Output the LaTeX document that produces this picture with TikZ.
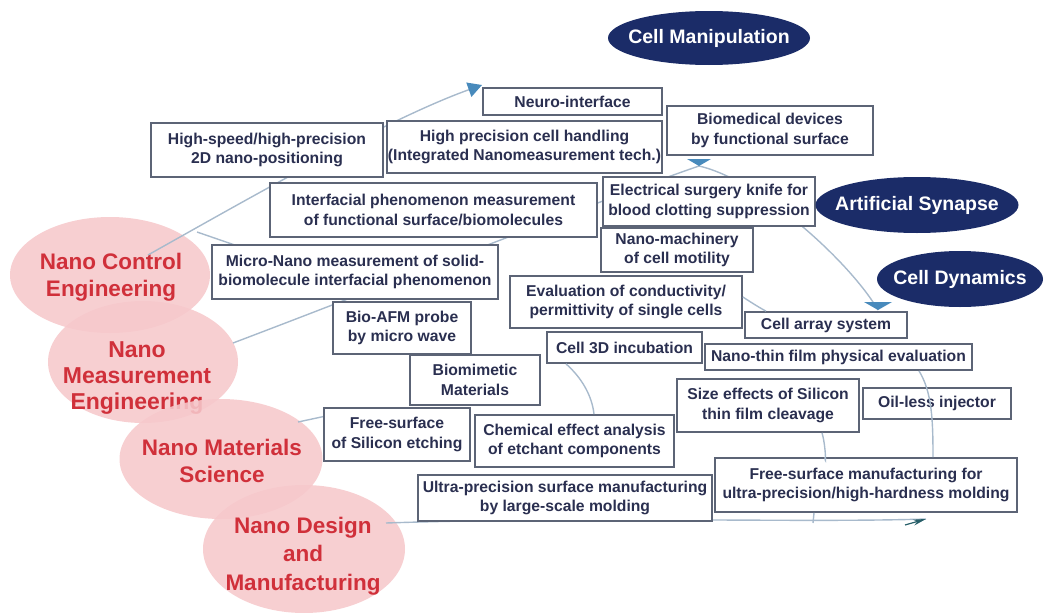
\documentclass[tikz,border=0pt]{standalone}
\usepackage{fontspec}
\setmainfont{Liberation Sans}
\usetikzlibrary{shapes.geometric,arrows.meta}
\definecolor{boxline}{RGB}{92,100,118}
\definecolor{boxtext}{RGB}{42,47,80}
\definecolor{navy}{RGB}{27,44,104}
\definecolor{pinkfill}{RGB}{246,200,203}
\definecolor{redtext}{RGB}{208,48,58}
\definecolor{conn}{RGB}{168,186,204}
\definecolor{arrowblue}{RGB}{72,138,188}
\definecolor{tealtip}{RGB}{40,95,105}
\begin{document}
\begin{tikzpicture}[x=1pt,y=-1pt,
  bx/.style={draw=boxline,line width=1.8pt,fill=white,rectangle,inner sep=0pt,align=center,text=boxtext,font=\fontsize{15.7}{19.5}\selectfont\bfseries},
  pk/.style={ellipse,fill=pinkfill,fill opacity=0.88,inner sep=0pt},
  ptx/.style={align=center,text=redtext,font=\fontsize{22.5}{27.5}\selectfont\bfseries},
  nv/.style={ellipse,fill=navy,inner sep=0pt},
  nvtx/.style={text=white,inner sep=0pt,font=\fontsize{19.5}{23}\selectfont\bfseries},
  cn/.style={draw=conn,line width=1.4pt}
]
\useasboundingbox (0,0) rectangle (1047,613);

% pink discipline ellipses
\node[pk,minimum width=200pt,minimum height=116pt] (nce) at (110,275) {};
\node[ptx] (nceT) at (111,277) {Nano Control\\Engineering};
\node[pk,minimum width=190pt,minimum height=122pt] (nme) at (143,362) {};
\node[ptx,font=\fontsize{23}{26}\selectfont\bfseries] (nmeT) at (137,378) {Nano\\Measurement\\Engineering};
\node[pk,minimum width=203pt,minimum height=120pt] (nms) at (221,459) {};
\node[ptx] (nmsT) at (222,461) {Nano Materials\\Science};
\node[pk,minimum width=202pt,minimum height=128pt] (ndm) at (304,549) {};
\node[ptx,font=\fontsize{22.5}{28.5}\selectfont\bfseries] (ndmT) at (303,556) {Nano Design\\and\\Manufacturing};

% connector end points
\coordinate (s1) at (148,255);
\coordinate (a1) at (482,85);
\coordinate (s2) at (197,232);
\coordinate (e2) at (255,252);
\coordinate (s3) at (233,343);
\coordinate (p1) at (699,166);
\coordinate (a3) at (878,310);
\coordinate (s4) at (298,422);
\coordinate (e4) at (326,416);
\coordinate (s10) at (386,523);
\coordinate (a4) at (926,519);
\coordinate (j1) at (813,523);

% connectors (drawn below the boxes)
\draw[cn,-{Triangle[width=15pt,length=14pt,color=arrowblue,fill=arrowblue]}] (s1) .. controls (260,192) and (390,118) .. (a1);
\draw[cn] (s2) -- (e2);
\draw[cn] (s3) .. controls (360,295) and (600,200) .. (p1);
\draw[cn] (p1) .. controls (760,180) and (850,262) .. (a3);
\draw[cn] (s4) -- (e4);
\draw[cn] (s10) .. controls (600,516) and (800,523) .. (a4);
\draw[-{Stealth[length=13pt,width=6pt]},tealtip,line width=1.2pt] (905,525) -- (a4);

% boxes
\node[bx,minimum width=232pt,minimum height=54pt] (hs) at (267,150) {High-speed/high-precision\\2D nano-positioning};
\node[bx,minimum width=275pt,minimum height=52pt] (hp) at (524.5,147) {High precision cell handling\\(Integrated Nanomeasurement tech.)};
\node[bx,minimum width=179pt,minimum height=27pt] (neuro) at (572.5,101.5) {Neuro-interface};
\node[bx,minimum width=206pt,minimum height=49pt] (bio) at (770,130.5) {Biomedical devices\\by functional surface};
\node[bx,minimum width=212pt,minimum height=49pt] (elec) at (709,201.5) {Electrical surgery knife for\\blood clotting suppression};
\node[bx,minimum width=327pt,minimum height=54pt] (inter) at (433.5,210) {Interfacial phenomenon measurement\\of functional surface/biomolecules};
\node[bx,minimum width=152pt,minimum height=44pt] (nanomach) at (677,250) {Nano-machinery\\of cell motility};
\node[bx,minimum width=286pt,minimum height=54pt] (micro) at (355,272) {Micro-Nano measurement of solid-\\biomolecule interfacial phenomenon};
\node[bx,minimum width=232pt,minimum height=52pt] (eval) at (626,302) {Evaluation of conductivity/\\permittivity of single cells};
\node[bx,minimum width=162pt,minimum height=26pt] (cellarray) at (826,325) {Cell array system};
\node[bx,minimum width=138pt,minimum height=52pt] (bioafm) at (402,328) {Bio-AFM probe\\by micro wave};
\node[bx,minimum width=155pt,minimum height=31pt] (cell3d) at (624.5,347.5) {Cell 3D incubation};
\node[bx,minimum width=267pt,minimum height=26pt] (nanothin) at (838.5,357) {Nano-thin film physical evaluation};
\node[bx,minimum width=130pt,minimum height=50pt] (biomim) at (475,380) {Biomimetic\\Materials};
\node[bx,minimum width=182pt,minimum height=53pt] (size) at (768,405.5) {Size effects of Silicon\\thin film cleavage};
\node[bx,minimum width=148pt,minimum height=31pt] (oil) at (937,403.5) {Oil-less injector};
\node[bx,minimum width=146pt,minimum height=53pt] (freesi) at (397,434.5) {Free-surface\\of Silicon etching};
\node[bx,minimum width=199pt,minimum height=52pt] (chem) at (574.5,441) {Chemical effect analysis\\of etchant components};
\node[bx,minimum width=294pt,minimum height=46pt] (ultra) at (565,498) {Ultra-precision surface manufacturing\\by large-scale molding};
\node[bx,minimum width=302pt,minimum height=54pt] (freemfg) at (866,485) {Free-surface manufacturing for\\ultra-precision/high-hardness molding};

% short connectors visible between boxes
\draw[cn] (eval.east |- 0,297) .. controls (752,303) and (760,308) .. (cellarray.north west -| 766,0);
\draw[cn] (cell3d.south -| 566,0) .. controls (582,378) and (592,396) .. (chem.north -| 594,0);
\draw[cn] (nanothin.south -| 919,0) .. controls (932,392) and (933,420) .. (freemfg.north -| 933,0);
\draw[cn] (size.south -| 822,0) .. controls (826,446) and (826,470) .. (freemfg.north -| 825,0);
\draw[cn] (freemfg.south -| 814,0) -- (j1);

% arrow triangles
\fill[arrowblue] (p1) -- ++(-12,-7) -- ++(24,0) -- cycle;
\fill[arrowblue] (a3) -- ++(-14,-8) -- ++(28,0) -- cycle;

% target ellipses
\node[nv,minimum width=202pt,minimum height=54pt] (cm) at (709,38) {};
\node[nvtx] (cmT) at (cm) {Cell Manipulation};
\node[nv,minimum width=203pt,minimum height=56pt] (as) at (917,205) {};
\node[nvtx] (asT) at (as) {Artificial Synapse};
\node[nv,minimum width=166pt,minimum height=56pt] (cd) at (960,279) {};
\node[nvtx] (cdT) at (cd) {Cell Dynamics};
\end{tikzpicture}
\end{document}
